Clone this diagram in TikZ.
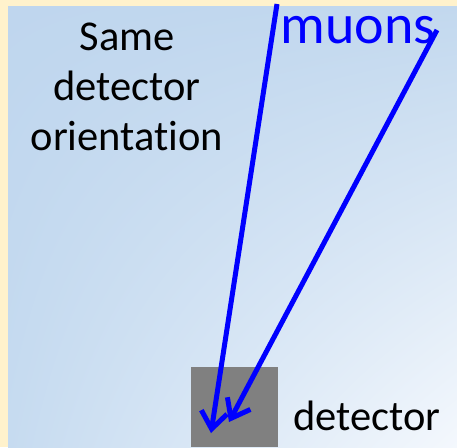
\documentclass[tikz,border=0pt]{standalone}
\usepackage{fontspec}
\setmainfont{Carlito}[Ligatures=NoCommon]
\usetikzlibrary{arrows.meta, positioning, shadings}

\definecolor{cream}{HTML}{FFF2CC}
\definecolor{skyA}{HTML}{BFD6EE}
\definecolor{skyB}{HTML}{C2D8EE}
\definecolor{skyC}{HTML}{C6DBF0}
\definecolor{skyD}{HTML}{F4F8FD}
\definecolor{detgray}{HTML}{808080}

\tikzset{
  muon/.style={draw=blue, line width=5pt, -{Straight Barb[length=17pt,width=26pt]}},
  big/.style={font=\fontsize{42.5}{50}\selectfont, inner sep=0pt},
}

\begin{document}
\begin{tikzpicture}[x=1pt, y=-1pt]
        \useasboundingbox (0,0) rectangle (457,447);
        \fill[cream] (0,0) rectangle (457,447);
        \shade[upper left=skyA, upper right=skyB, lower left=skyC, lower right=skyD] (8,6) rectangle (457,447);

        \node[fill=detgray, minimum width=87pt, minimum height=80pt, inner sep=0pt, anchor=north west] (det) at (191,367) {};
        \node[big, anchor=base west] (detlabel) at (293,430) {detector};
        \node[big, align=center, anchor=center] (same) at (127,87) {Same\\detector\\orientation};

        % incoming tracks
        \coordinate (m1) at (277,4);
        \coordinate (m2) at (437,30);
        \coordinate (hit1) at (211,433);
        \coordinate (hit2) at (229,422);
        \draw[muon] (m1) -- (hit1);
        \draw[muon] (m2) -- (hit2);

        \node[text=blue, font=\fontsize{56}{60}\selectfont, inner sep=0pt, anchor=base] (muons) at (358,43) {muons};
\end{tikzpicture}
\end{document}
